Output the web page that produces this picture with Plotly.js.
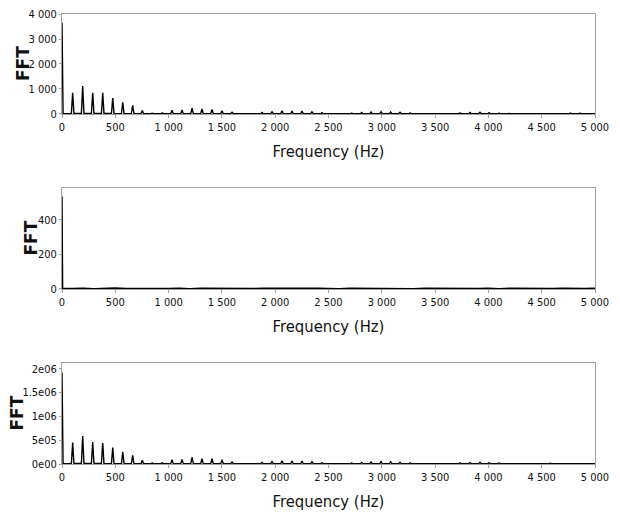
<!DOCTYPE html>
<html>
<head>
<meta charset="utf-8">
<script src="https://cdn.plot.ly/plotly-3.0.1.min.js"></script>
<style>html,body{margin:0;padding:0;background:#fff;}#chart{width:620px;height:514px;}</style>
</head>
<body>
<div id="chart"></div>
<script>
// Frequencies (Hz) shared by top and bottom spectra
const freqHz = [
 0, 10,
 88,100,112, 182,194,206, 276,288,300, 370,382,394, 464,476,488,
 558,570,582, 651,663,675, 741,753,765, 834,846,858, 928,940,952,
 1020,1032,1044, 1114,1126,1138, 1208,1220,1232, 1301,1313,1325, 1395,1407,1419,
 1489,1501,1513, 1583,1595,1607, 1676,1688,1700, 1770,1782,1794, 1864,1876,1888,
 1958,1970,1982, 2052,2064,2076, 2146,2158,2170, 2239,2251,2263, 2333,2345,2357,
 2427,2439,2451, 2518,2530,2542, 2612,2624,2636, 2706,2718,2730, 2799,2811,2823,
 2887,2899,2911, 2981,2993,3005, 3071,3083,3095, 3159,3171,3183, 3253,3265,3277,
 3348,3360,3372, 3438,3450,3462, 3534,3546,3558, 3628,3640,3652, 3722,3734,3746,
 3815,3827,3839, 3909,3921,3933, 3994,4006,4018, 4087,4099,4111, 4181,4193,4205,
 4278,4290,4302, 4368,4380,4392, 4468,4480,4492, 4568,4580,4592, 4658,4670,4682,
 4758,4770,4782, 4848,4860,4872, 4941,4953,4965,
 5000
];
const fftTop = [
 3650, 20,
 15,850,20, 20,1120,18, 18,850,20, 20,850,18, 18,640,16,
 16,470,15, 15,350,12, 12,135,10, 10,30,10, 10,45,10,
 10,150,12, 12,160,12, 12,235,12, 12,200,12, 12,185,10,
 10,130,10, 10,65,8, 8,20,8, 8,25,8, 8,60,8,
 8,90,10, 10,130,10, 10,120,10, 10,120,10, 10,90,8,
 8,50,8, 8,20,8, 8,20,8, 8,35,8, 8,60,8,
 8,80,8, 8,95,8, 8,80,8, 8,65,8, 8,45,8,
 8,20,8, 8,20,8, 8,25,8, 8,35,8, 8,45,8,
 8,60,8, 8,70,8, 8,55,8, 8,40,8, 8,25,8,
 8,20,8, 8,20,8, 8,25,8, 8,30,8, 8,35,8,
 8,40,8, 8,40,8, 8,35,8,
 8
];
const fftBot = [
 1920000, 10000,
 8000,449000,9000, 9000,589000,9000, 9000,463000,9000, 9000,442000,8000, 8000,344000,8000,
 8000,253000,8000, 8000,182000,7000, 7000,80000,7000, 7000,20000,7000, 7000,25000,7000,
 7000,90000,7000, 7000,98000,7000, 7000,140000,7000, 7000,112000,7000, 7000,110000,7000,
 7000,88000,7000, 7000,45000,6000, 6000,12000,6000, 6000,15000,6000, 6000,35000,6000,
 6000,50000,6000, 6000,70000,6000, 6000,62000,6000, 6000,62000,6000, 6000,48000,6000,
 6000,30000,6000, 6000,12000,6000, 6000,12000,6000, 6000,20000,6000, 6000,32000,6000,
 6000,42000,6000, 6000,50000,6000, 6000,42000,6000, 6000,34000,6000, 6000,24000,6000,
 6000,12000,6000, 6000,12000,6000, 6000,14000,6000, 6000,18000,6000, 6000,24000,6000,
 6000,32000,6000, 6000,36000,6000, 6000,30000,6000, 6000,22000,6000, 6000,14000,6000,
 6000,12000,6000, 6000,12000,6000, 6000,14000,6000, 6000,16000,6000, 6000,18000,6000,
 6000,20000,6000, 6000,20000,6000, 6000,18000,6000,
 6000
];
// Middle spectrum
const midFreq = [0, 6,
 100,200,300,400,500,600,700,800,900,1000,
 1100,1200,1300,1400,1500,1600,1700,1800,1900,2000,
 2100,2200,2300,2400,2500,2600,2700,2800,2900,3000,
 3100,3200,3300,3400,3500,3600,3700,3800,3900,4000,
 4100,4200,4300,4400,4500,4600,4700,4800,4900,5000];
const midFFT = [535, 4,
 3,5,2,4,6,3,2,5,4,3,
 5,2,4,3,6,4,2,3,5,4,
 3,2,4,5,3,2,4,3,5,2,
 4,3,2,5,4,3,2,4,3,5,
 2,4,3,5,2,3,4,2,3,4];

const xTickVals = [0,500,1000,1500,2000,2500,3000,3500,4000,4500,5000];
const botTickVals = [0,500000,1000000,1500000,2000000];
const botTickText = ['0e00','5e05','1e06','1.5e06','2e06'];
const yTitleText = 'FFT';
const xTitleText = 'Frequency (Hz)';

const narrow = '"DejaVu Sans Condensed","Liberation Sans Narrow",sans-serif';
const tickFont = {family:narrow, size:11, color:'#111'};
const xTitle = {text:xTitleText, font:{family:narrow, size:16.5, color:'#111'}, standoff:12};

function xa(anchor){
  return {anchor:anchor, range:[0,5000], tickvals:xTickVals, separatethousands:true, tickformat:',d',
    showline:true, mirror:true, linecolor:'#a0a0a0', linewidth:1, ticks:'outside', ticklen:3, tickcolor:'#a0a0a0',
    showgrid:false, zeroline:false, tickfont:tickFont, title:xTitle};
}
function ya(anchor, dom, extra){
  return Object.assign({anchor:anchor, domain:dom, showline:true, mirror:true, linecolor:'#a0a0a0', linewidth:1,
    ticks:'outside', ticklen:2, tickcolor:'#a0a0a0', showgrid:false, zeroline:false, tickfont:tickFont,
    separatethousands:true}, extra);
}
function yLabel(yref, xpx){
  return {text:yTitleText, xref:'paper', yref:yref+' domain', x:(xpx-62)/533, y:0.5,
    xanchor:'center', yanchor:'middle', textangle:-90, showarrow:false,
    font:{family:'"DejaVu Sans",sans-serif', size:17, color:'#111', weight:'bold'}};
}

const lineStyle = {color:'#000', width:1.4};
const data = [
  {x:freqHz, y:fftTop, type:'scatter', mode:'lines', line:lineStyle, xaxis:'x', yaxis:'y', hoverinfo:'skip'},
  {x:midFreq, y:midFFT, type:'scatter', mode:'lines', line:lineStyle, xaxis:'x2', yaxis:'y2', hoverinfo:'skip'},
  {x:freqHz, y:fftBot, type:'scatter', mode:'lines', line:lineStyle, xaxis:'x3', yaxis:'y3', hoverinfo:'skip'}
];
const layout = {
  width:620, height:514, showlegend:false, separators:'. ',
  margin:{l:62, r:25, t:14, b:50},
  paper_bgcolor:'#fff', plot_bgcolor:'#fff',
  xaxis:xa('y'), xaxis2:xa('y2'), xaxis3:xa('y3'),
  yaxis: ya('x',  [0.7778,1], {range:[0,4000], tickvals:[0,1000,2000,3000,4000], tickformat:',d'}),
  yaxis2:ya('x2', [0.3889,0.6133], {range:[0,584], tickvals:[0,200,400]}),
  yaxis3:ya('x3', [0,0.2244], {range:[0,2120000], tickvals:botTickVals, ticktext:botTickText}),
  annotations:[yLabel('y',23), yLabel('y2',31), yLabel('y3',17)]
};
Plotly.newPlot('chart', data, layout, {staticPlot:true, displayModeBar:false});
</script>
</body>
</html>
